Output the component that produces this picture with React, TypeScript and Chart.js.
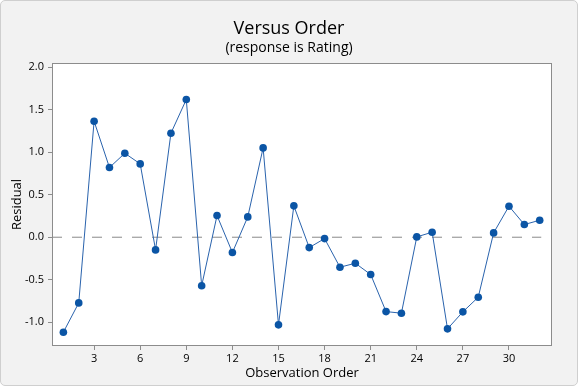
import React, { useEffect, useRef } from "react";
import { Chart, registerables } from "chart.js";

Chart.register(...registerables);

const chartTitle = "Versus Order";
const chartSubtitle = "(response is Rating)";
const xAxisTitle = "Observation Order";
const yAxisTitle = "Residual";

const observations = [
  1, 2, 3, 4, 5, 6, 7, 8, 9, 10, 11, 12, 13, 14, 15, 16,
  17, 18, 19, 20, 21, 22, 23, 24, 25, 26, 27, 28, 29, 30, 31, 32,
];
const residuals = [
  -1.118, -0.773, 1.365, 0.82, 0.988, 0.863, -0.149, 1.224, 1.62, -0.571,
  0.255, -0.18, 0.239, 1.051, -1.031, 0.369, -0.122, -0.016, -0.353, -0.306,
  -0.439, -0.875, -0.894, 0.004, 0.059, -1.078, -0.878, -0.706, 0.051, 0.365,
  0.149, 0.2,
];
const xTicks = [3, 6, 9, 12, 15, 18, 21, 24, 27, 30];
const yTicks = [-1.0, -0.5, 0.0, 0.5, 1.0, 1.5, 2.0];
const referenceX = [0.26, 32.1];
const referenceY = [0, 0];
const xRange = [0.26, 32.8];
const yRange = [-1.28, 2.05];

const FONT = "'Open Sans', 'Noto Sans', sans-serif";

const framePlugin = {
  id: "frame",
  beforeDatasetsDraw(chart: any) {
    const { ctx, chartArea: a } = chart;
    ctx.save();
    ctx.fillStyle = "#ffffff";
    ctx.fillRect(a.left, a.top, a.right - a.left, a.bottom - a.top);
    ctx.restore();
  },
  afterDraw(chart: any) {
    const { ctx, chartArea: a } = chart;
    ctx.save();
    ctx.strokeStyle = "#8c8c8c";
    ctx.lineWidth = 1;
    ctx.strokeRect(
      Math.round(a.left) + 0.5,
      Math.round(a.top) + 0.5,
      Math.round(a.right - a.left) - 1,
      Math.round(a.bottom - a.top) - 1
    );
    ctx.fillStyle = "#000000";
    ctx.textAlign = "center";
    ctx.textBaseline = "alphabetic";
    ctx.font = `18px ${FONT}`;
    ctx.fillText(chartTitle, chart.width / 2, 34);
    ctx.font = `14px ${FONT}`;
    ctx.fillText(chartSubtitle, chart.width / 2, 52);
    ctx.restore();
  },
};

export default function App() {
  const ref = useRef<HTMLCanvasElement | null>(null);

  useEffect(() => {
    if (!ref.current) return;
    const chart = new Chart(ref.current, {
      type: "line",
      data: {
        datasets: [
          {
            data: observations.map((o, i) => ({ x: o, y: residuals[i] })),
            borderColor: "#2a63ad",
            borderWidth: 1,
            backgroundColor: "#0b55a5",
            pointBackgroundColor: "#0b55a5",
            pointBorderColor: "#0b55a5",
            pointRadius: 3.8,
            pointBorderWidth: 0,
            tension: 0,
            order: 1,
          },
          {
            data: referenceX.map((x, i) => ({ x, y: referenceY[i] })),
            borderColor: "#8a8a8a",
            borderWidth: 1,
            borderDash: [10, 10],
            pointRadius: 0,
            order: 2,
          },
        ],
      },
      options: {
        responsive: false,
        animation: false,
        events: [],
        layout: { padding: { left: 0, top: 63, right: 26, bottom: 0 } },
        plugins: {
          legend: { display: false },
          title: { display: false },
          tooltip: { enabled: false },
        },
        scales: {
          x: {
            type: "linear",
            min: xRange[0],
            max: xRange[1],
            afterFit(scale: any) {
              scale.height = 40;
            },
            afterBuildTicks(scale: any) {
              scale.ticks = xTicks.map((v) => ({ value: v }));
            },
            ticks: {
              color: "#000000",
              font: { family: FONT, size: 11 },
              padding: 2,
              maxRotation: 0,
              autoSkip: false,
              callback: (v: any) => String(v),
            },
            grid: {
              drawOnChartArea: false,
              drawTicks: true,
              tickLength: 4,
              color: "#8c8c8c",
            },
            border: { display: false },
            title: {
              display: true,
              text: xAxisTitle,
              color: "#000000",
              font: { family: FONT, size: 13 },
              padding: { top: 0, bottom: 5 },
            },
          },
          y: {
            type: "linear",
            min: yRange[0],
            max: yRange[1],
            afterFit(scale: any) {
              scale.width = 52;
            },
            afterBuildTicks(scale: any) {
              scale.ticks = yTicks.map((v) => ({ value: v }));
            },
            ticks: {
              color: "#000000",
              font: { family: FONT, size: 11 },
              padding: 4,
              autoSkip: false,
              callback: (v: any) => Number(v).toFixed(1),
            },
            grid: {
              drawOnChartArea: false,
              drawTicks: true,
              tickLength: 4,
              color: "#8c8c8c",
            },
            border: { display: false },
            title: {
              display: true,
              text: yAxisTitle,
              color: "#000000",
              font: { family: FONT, size: 13 },
              padding: { top: 9, bottom: 0 },
            },
          },
        },
      },
      plugins: [framePlugin],
    });
    return () => chart.destroy();
  }, []);

  return (
    <div
      style={{
        position: "fixed",
        left: 0,
        top: 0,
        width: 578,
        height: 386,
        boxSizing: "border-box",
        background: "#f2f2f2",
        border: "1px solid #cfcfcf",
        borderRadius: 5,
      }}
    >
      <canvas
        ref={ref}
        width={578}
        height={386}
        style={{ position: "absolute", left: -1, top: -1, width: 578, height: 386 }}
      />
    </div>
  );
}
